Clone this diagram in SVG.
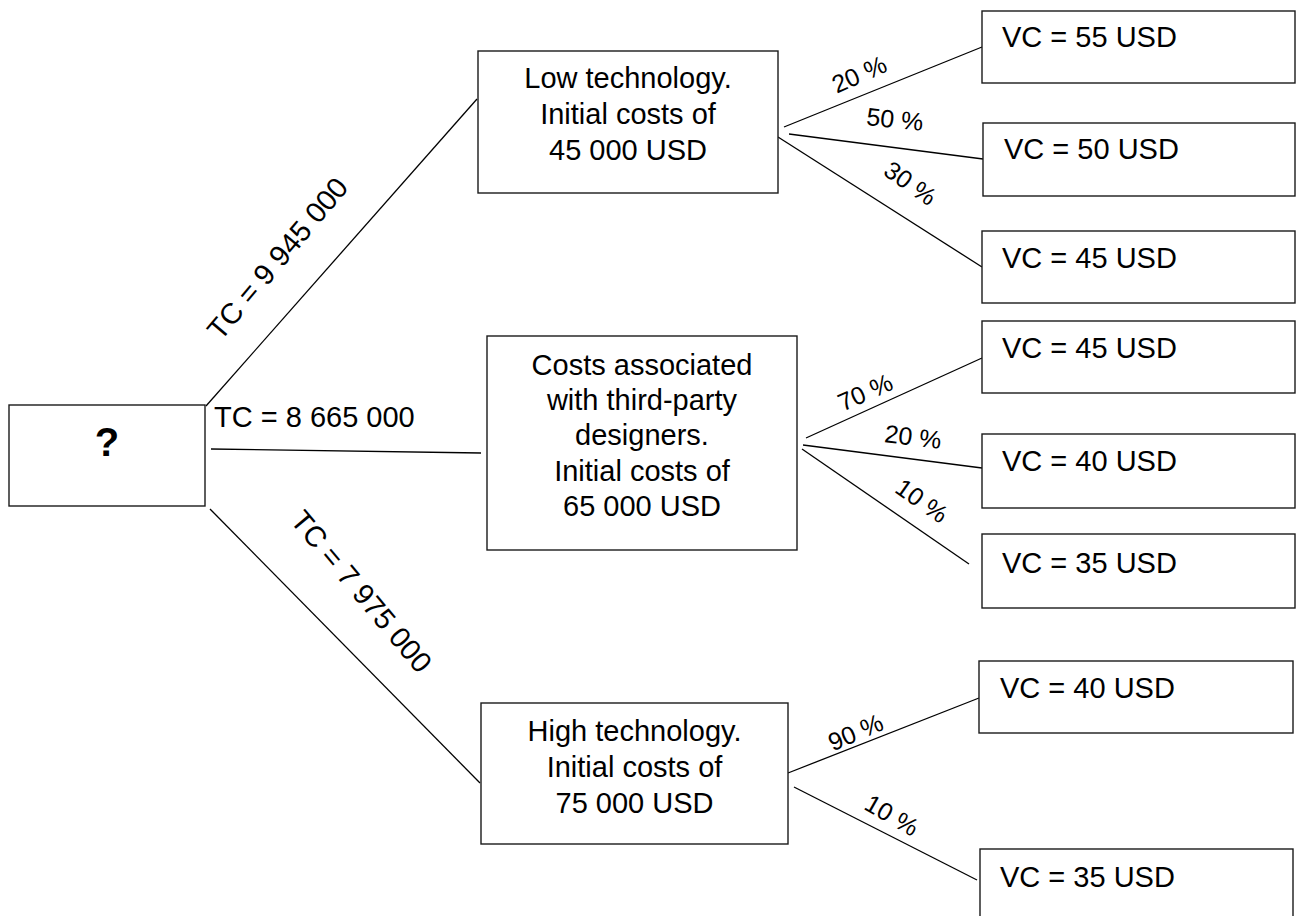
<svg xmlns="http://www.w3.org/2000/svg" width="1296" height="916" viewBox="0 0 1296 916">
<style>
.box{fill:#fff;stroke:#1a1a1a;stroke-width:1.4}
.t{font-family:"Liberation Sans",Arial,sans-serif;font-size:29px;fill:#000}
.c{text-anchor:middle}
.p{font-family:"Liberation Sans",Arial,sans-serif;font-size:25px;fill:#000;text-anchor:middle}
.ln{stroke:#000;stroke-width:1.3;fill:none}
</style>
<rect width="1296" height="916" fill="#fff"/>
<g id="connectors">
<line class="ln" x1="206" y1="406" x2="477" y2="99"/>
<line class="ln" x1="211" y1="449" x2="481" y2="453"/>
<line class="ln" x1="210" y1="509" x2="480" y2="783"/>
<line class="ln" x1="784" y1="127" x2="982" y2="47"/>
<line class="ln" x1="789" y1="134" x2="983" y2="159"/>
<line class="ln" x1="778" y1="137" x2="982" y2="267"/>
<line class="ln" x1="806" y1="438" x2="982" y2="358"/>
<line class="ln" x1="803" y1="445" x2="982" y2="468"/>
<line class="ln" x1="802" y1="449" x2="969" y2="564"/>
<line class="ln" x1="788" y1="773" x2="979" y2="698"/>
<line class="ln" x1="794" y1="787" x2="977" y2="880"/>
<g transform="translate(277.5,258.5) rotate(-50)"><text class="t c" x="0" y="10">TC = 9 945 000</text></g>
<text class="t" x="214" y="427">TC = 8 665 000</text>
<g transform="translate(361.5,591.5) rotate(50)"><text class="t c" x="0" y="10">TC = 7 975 000</text></g>
<g transform="translate(859,74) rotate(-24)"><text class="p" x="0" y="9">20 %</text></g>
<g transform="translate(895,119) rotate(6)"><text class="p" x="0" y="9">50 %</text></g>
<g transform="translate(910.5,183) rotate(35)"><text class="p" x="0" y="9">30 %</text></g>
<g transform="translate(865,392) rotate(-24)"><text class="p" x="0" y="9">70 %</text></g>
<g transform="translate(913,436.5) rotate(7)"><text class="p" x="0" y="9">20 %</text></g>
<g transform="translate(922,500.5) rotate(35)"><text class="p" x="0" y="9">10 %</text></g>
<g transform="translate(855.5,732) rotate(-23)"><text class="p" x="0" y="9">90 %</text></g>
<g transform="translate(892,815) rotate(30)"><text class="p" x="0" y="9">10 %</text></g>
</g>
<g id="root">
<rect class="box" x="9" y="405" width="196" height="101"/>
<text class="t c" x="107" y="456" style="font-size:40px;font-weight:bold">?</text>
</g>
<g id="low">
<rect class="box" x="478" y="51" width="300" height="142"/>
<text class="t c" x="628" y="88">Low technology.</text>
<text class="t c" x="628" y="124">Initial costs of</text>
<text class="t c" x="628" y="160">45 000 USD</text>
</g>
<g id="mid">
<rect class="box" x="487" y="336" width="310" height="214"/>
<text class="t c" x="642" y="375">Costs associated</text>
<text class="t c" x="642" y="410">with third-party</text>
<text class="t c" x="642" y="445">designers.</text>
<text class="t c" x="642" y="481">Initial costs of</text>
<text class="t c" x="642" y="516">65 000 USD</text>
</g>
<g id="high">
<rect class="box" x="481" y="703" width="307" height="141"/>
<text class="t c" x="634.5" y="741">High technology.</text>
<text class="t c" x="634.5" y="777">Initial costs of</text>
<text class="t c" x="634.5" y="813">75 000 USD</text>
</g>
<g id="vc1"><rect class="box" x="982" y="11" width="313" height="72"/><text class="t" x="1002" y="47">VC = 55 USD</text></g>
<g id="vc2"><rect class="box" x="983" y="123" width="312" height="73"/><text class="t" x="1004" y="159">VC = 50 USD</text></g>
<g id="vc3"><rect class="box" x="982" y="231" width="313" height="72"/><text class="t" x="1002" y="268">VC = 45 USD</text></g>
<g id="vc4"><rect class="box" x="982" y="321" width="313" height="72"/><text class="t" x="1002" y="358">VC = 45 USD</text></g>
<g id="vc5"><rect class="box" x="982" y="434" width="313" height="74"/><text class="t" x="1002" y="471">VC = 40 USD</text></g>
<g id="vc6"><rect class="box" x="982" y="534" width="313" height="74"/><text class="t" x="1002" y="573">VC = 35 USD</text></g>
<g id="vc7"><rect class="box" x="979" y="661" width="314" height="72"/><text class="t" x="1000" y="698">VC = 40 USD</text></g>
<g id="vc8"><rect class="box" x="980" y="849" width="313" height="74"/><text class="t" x="1000" y="887">VC = 35 USD</text></g>
</svg>
